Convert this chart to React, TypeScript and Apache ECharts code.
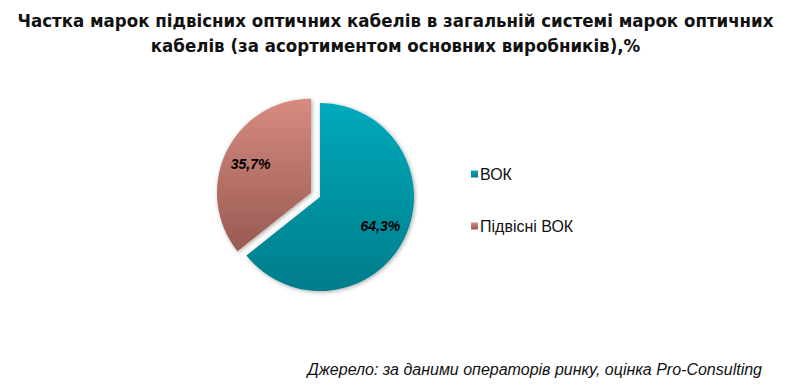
import React, { useEffect, useRef } from "react";
import * as echarts from "echarts";

const categories = ["ВОК", "Підвісні ВОК"];
const values = [64.3, 35.7];
const labels = ["64,3%", "35,7%"];
const titleText = "Частка марок підвісних оптичних кабелів в загальній системі марок оптичних\nкабелів (за асортиментом основних виробників),%";
const sourceText = "Джерело: за даними операторів ринку, оцінка Pro-Consulting";

const colors = [
  ["#06aabb", "#037c8a"],
  ["#d78b80", "#985a52"],
];

export default function App() {
  const ref = useRef<HTMLDivElement>(null);
  useEffect(() => {
    const chart = echarts.init(ref.current!, null, { renderer: "svg" });
    const grad = (c: string[]) =>
      new echarts.graphic.LinearGradient(0, 0, 0, 1, [
        { offset: 0, color: c[0] },
        { offset: 1, color: c[1] },
      ]);
    chart.setOption({
      animation: false,
      backgroundColor: "#ffffff",
      title: [
        {
          text: titleText,
          left: "center",
          top: 3,
          textStyle: {
            fontFamily: "'DejaVu Sans Condensed', 'Liberation Sans Narrow', sans-serif",
            fontWeight: "bold",
            fontSize: 18.5,
            lineHeight: 25,
            color: "#111",
          },
        },
        {
          text: sourceText,
          right: 24,
          top: 356,
          textStyle: {
            fontFamily: "'Liberation Sans', Arial, sans-serif",
            fontStyle: "italic",
            fontWeight: "normal",
            fontSize: 16,
            color: "#111",
          },
        },
      ],
      legend: {
        orient: "vertical",
        left: 466,
        top: 161,
        itemGap: 36,
        icon: "rect",
        itemWidth: 7,
        itemHeight: 7,
        selectedMode: false,
        data: categories,
        textStyle: {
          fontFamily: "'Liberation Sans', Arial, sans-serif",
          fontSize: 16,
          color: "#111",
          padding: [0, 0, 0, -3],
        },
      },
      series: [
        {
          type: "pie",
          center: [320, 197],
          radius: [0, 94],
          startAngle: 90,
          clockwise: true,
          selectedMode: "multiple",
          selectedOffset: 10,
          label: { show: false },
          labelLine: { show: false },
          itemStyle: {
            shadowBlur: 4,
            shadowColor: "rgba(0,0,0,0.35)",
            shadowOffsetX: 1,
            shadowOffsetY: 1,
          },
          emphasis: { disabled: true },
          data: categories.map((name, i) => ({
            name,
            value: values[i],
            selected: i === 1,
            itemStyle: { color: grad(colors[i]) },
          })),
        },
        {
          type: "pie",
          center: [320, 197],
          radius: [0, 128],
          startAngle: 90,
          clockwise: true,
          silent: true,
          selectedMode: "multiple",
          selectedOffset: 10,
          legendHoverLink: false,
          labelLine: { show: false },
          label: {
            show: true,
            position: "inside",
            formatter: (p: any) => labels[p.dataIndex],
            fontFamily: "'Liberation Sans', Arial, sans-serif",
            fontStyle: "italic",
            fontWeight: "bold",
            fontSize: 14,
            color: "#000",
          },
          itemStyle: { color: "rgba(0,0,0,0)" },
          emphasis: { disabled: true },
          data: categories.map((name, i) => ({
            name: name + " ",
            value: values[i],
            selected: i === 1,
          })),
        },
      ],
    });
    return () => chart.dispose();
  }, []);
  return (
    <div
      ref={ref}
      style={{ position: "absolute", left: 0, top: 0, width: 791, height: 386 }}
    />
  );
}
